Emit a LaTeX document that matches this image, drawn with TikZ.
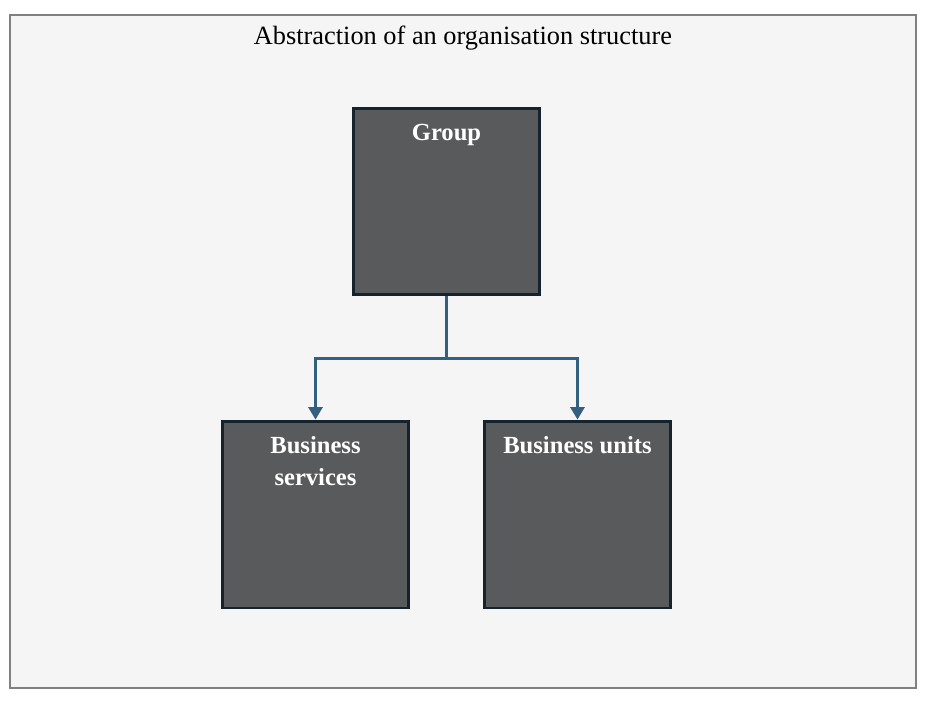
\documentclass[tikz,border=0pt]{standalone}
\usepackage{fontspec}
\setmainfont{Liberation Serif}
\usepackage{tikz}
\usetikzlibrary{arrows.meta,positioning,calc}
\definecolor{framegray}{HTML}{808080}
\definecolor{paneback}{HTML}{F5F5F5}
\definecolor{unitfill}{HTML}{595A5C}
\definecolor{unitedge}{HTML}{15232F}
\definecolor{linkblue}{HTML}{33607F}
\tikzset{
  orgbox/.style={
    draw=unitedge,fill=unitfill,line width=1.7pt,
    minimum width=3.74cm,minimum height=3.74cm,inner sep=0pt,
  },
  orglabel/.style={
    text=white,font=\fontsize{14}{18}\selectfont\bfseries,align=center,
  },
  orglink/.style={
    draw=linkblue,line width=1.2pt,-{Triangle[length=7pt,width=8pt]},
  },
}

\begin{document}
\begin{tikzpicture}[x=0.02cm,y=-0.02cm]
    % frame
    \useasboundingbox (0,0) rectangle (926,704);
    \draw[framegray,fill=paneback,line width=1pt] (10,15) rectangle (916,688);
    \node (title) at (463,38) {\fontsize{15}{18}\selectfont Abstraction of an organisation structure};
    % units
    \node[orgbox,label={[orglabel,anchor=north,yshift=-0.22cm]north:Group}] (group) at (446.5,201.5) {};
    \node[orgbox,label={[orglabel,anchor=north,yshift=-0.22cm]north:Business\\services}] (bs) at (315.5,514.5) {};
    \node[orgbox,label={[orglabel,anchor=north,yshift=-0.22cm]north:Business units}] (bu) at (577.5,514.5) {};
    % links
    \coordinate (split) at ($(group.south)+(0,62)$);
    \draw[orglink] (group.south) -- (split) -| (bs.north);
    \draw[orglink] (split) -| (bu.north);
\end{tikzpicture}
\end{document}
